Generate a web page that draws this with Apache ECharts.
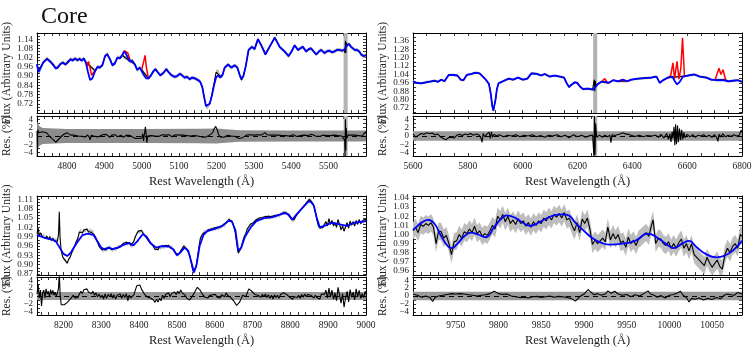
<!DOCTYPE html>
<html>
<head>
<meta charset="utf-8">
<script src="https://cdn.jsdelivr.net/npm/echarts@6/dist/echarts.min.js"></script>
<style>
html, body { margin: 0; padding: 0; background: #fff; }
#chart { width: 756px; height: 348px; }
</style>
</head>
<body>
<div id="chart"></div>
<script>
// tick labels
var p1XTicks = [4800, 4900, 5000, 5100, 5200, 5300, 5400, 5500];
var p1YTicks = [0.72, 0.78, 0.84, 0.90, 0.96, 1.02, 1.08, 1.14];
var p2XTicks = [5600, 5800, 6000, 6200, 6400, 6600, 6800];
var p2YTicks = [0.72, 0.80, 0.88, 0.96, 1.04, 1.12, 1.20, 1.28, 1.36];
var p3XTicks = [8200, 8300, 8400, 8500, 8600, 8700, 8800, 8900, 9000];
var p3YTicks = [0.87, 0.90, 0.93, 0.96, 0.99, 1.02, 1.05, 1.08, 1.11];
var p4XTicks = [9750, 9800, 9850, 9900, 9950, 10000, 10050];
var p4YTicks = [0.96, 0.97, 0.98, 0.99, 1.00, 1.01, 1.02, 1.03, 1.04];
var resTicks = [-4, -2, 0, 2, 4];

// panel 1 : 4720-5600
var p1Model = [[4720,0.975],[4724,0.925],[4729,0.93],[4737,0.99],[4747,1.01],[4755,0.995],[4764,0.97],[4770,0.95],[4776,0.955],[4783,0.98],[4790,0.985],[4796,0.975],[4803,0.99],[4810,1.01],[4816,1.0],[4822,1.015],[4828,1.005],[4834,1.01],[4840,1.0],[4845,1.015],[4851,0.985],[4856,0.93],[4862,0.875],[4868,0.885],[4875,0.93],[4882,0.96],[4888,0.955],[4895,0.97],[4902,1.03],[4908,1.04],[4915,1.01],[4922,0.97],[4928,0.98],[4935,1.02],[4942,1.015],[4948,1.035],[4953,1.06],[4958,1.045],[4963,1.02],[4968,0.995],[4975,1.0],[4982,0.975],[4988,0.94],[4995,0.955],[5000,0.945],[5006,0.905],[5012,0.885],[5018,0.885],[5025,0.905],[5031,0.93],[5037,0.945],[5043,0.925],[5050,0.905],[5058,0.92],[5066,0.945],[5072,0.925],[5080,0.905],[5088,0.895],[5095,0.9],[5102,0.915],[5108,0.905],[5115,0.89],[5122,0.895],[5128,0.88],[5135,0.89],[5142,0.885],[5150,0.875],[5156,0.865],[5162,0.83],[5167,0.765],[5172,0.705],[5176,0.695],[5182,0.72],[5188,0.775],[5194,0.845],[5199,0.89],[5204,0.905],[5210,0.89],[5216,0.905],[5222,0.955],[5231,0.975],[5240,0.955],[5249,0.97],[5256,0.955],[5262,0.91],[5267,0.88],[5272,0.9],[5278,0.96],[5286,1.07],[5295,1.09],[5302,1.075],[5311,1.14],[5320,1.1],[5331,1.04],[5342,1.09],[5356,1.15],[5369,1.09],[5382,1.06],[5393,1.03],[5401,1.06],[5409,1.1],[5418,1.07],[5424,1.08],[5431,1.09],[5440,1.06],[5447,1.075],[5453,1.08],[5460,1.06],[5467,1.04],[5474,1.06],[5480,1.07],[5489,1.05],[5495,1.06],[5502,1.065],[5509,1.055],[5516,1.06],[5522,1.07],[5529,1.07],[5536,1.065],[5542,1.07],[5548,1.095],[5554,1.11],[5560,1.09],[5564,1.08],[5570,1.07],[5576,1.07],[5582,1.06],[5587,1.04],[5593,1.03],[5600,1.035]];
var p1Data = [[4720,0.98],[4724,0.935],[4729,0.935],[4737,0.99],[4747,1.015],[4755,0.995],[4764,0.975],[4770,0.95],[4776,0.96],[4783,0.98],[4790,0.99],[4796,0.975],[4803,0.995],[4810,1.01],[4816,1.005],[4822,1.015],[4828,1.0],[4834,1.015],[4840,1.0],[4845,1.015],[4851,0.99],[4875,0.935],[4882,0.96],[4888,0.955],[4895,0.975],[4902,1.03],[4908,1.045],[4915,1.01],[4922,0.97],[4928,0.985],[4935,1.02],[4942,1.02],[4948,1.035],[4970,0.995],[4975,1.0],[4982,0.975],[4988,0.94],[4995,0.955],[5000,0.94],[5018,0.885],[5025,0.905],[5031,0.93],[5037,0.945],[5043,0.925],[5050,0.905],[5058,0.92],[5066,0.945],[5072,0.925],[5080,0.905],[5088,0.895],[5095,0.9],[5102,0.915],[5108,0.905],[5115,0.89],[5122,0.895],[5128,0.88],[5135,0.89],[5142,0.885],[5150,0.875],[5156,0.865],[5162,0.83],[5167,0.765],[5172,0.705],[5176,0.695],[5182,0.72],[5188,0.78],[5194,0.86],[5199,0.925],[5204,0.935],[5210,0.9],[5216,0.905],[5222,0.955],[5231,0.975],[5240,0.955],[5249,0.97],[5256,0.955],[5262,0.905],[5267,0.875],[5272,0.9],[5278,0.96],[5286,1.07],[5295,1.09],[5302,1.075],[5311,1.14],[5320,1.1],[5331,1.045],[5342,1.09],[5356,1.15],[5369,1.09],[5382,1.06],[5393,1.03],[5401,1.06],[5409,1.1],[5418,1.07],[5424,1.08],[5431,1.09],[5440,1.06],[5447,1.075],[5453,1.08],[5460,1.06],[5467,1.04],[5474,1.06],[5480,1.07],[5489,1.05],[5495,1.06],[5502,1.065],[5509,1.055],[5516,1.06],[5522,1.07],[5529,1.07],[5536,1.065],[5542,1.07],[5544,1.05],[5545,1.13],[5546,1.05],[5547,1.12],[5549,1.095],[5554,1.11],[5560,1.09],[5564,1.08],[5570,1.07],[5576,1.07],[5582,1.06],[5587,1.04],[5593,1.03],[5600,1.035]];
var p1Emis = [
  [[4851,0.99],[4854,0.965],[4858,0.995],[4862,0.95],[4866,0.905],[4870,0.9],[4875,0.935]],
  [[4948,1.035],[4953,1.065],[4958,1.055],[4963,1.05],[4970,0.995]],
  [[5000,0.94],[5003,0.945],[5006,1.0],[5009,1.035],[5013,0.95],[5018,0.885]]
];
var p1Sigma = 0.012;
var p1Res = [[4720,1.2],[4721,-5.5],[4722,1.5],[4725,0.8],[4730,0.5],[4735,1.0],[4740,0.6],[4745,0.8],[4750,0.3],[4755,-0.2],[4760,-0.6],[4765,-1.0],[4770,-1.5],[4775,-1.2],[4780,-0.6],[4785,-0.2],[4790,0.3],[4795,0.6],[4800,0.8],[4805,0.6],[4810,0.2],[4815,0.3],[4820,0.2],[4825,0.5],[4830,0.0],[4835,0.3],[4840,-0.1],[4845,0.2],[4850,-0.2],[4855,0.3],[4860,-0.3],[4862,-0.9],[4865,0.2],[4870,0.3],[4875,-0.1],[4880,0.2],[4885,-0.2],[4890,0.1],[4895,0.3],[4900,0.1],[4905,0.4],[4910,0.0],[4915,-0.3],[4920,0.2],[4925,-0.1],[4930,0.3],[4935,-0.2],[4940,0.0],[4945,0.2],[4950,-0.3],[4955,0.0],[4960,0.2],[4965,-0.2],[4970,0.1],[4975,-0.3],[4980,-0.5],[4985,-0.8],[4990,-0.6],[4995,-0.2],[5000,-0.5],[5003,0.5],[5005,-1.2],[5008,1.0],[5010,2.2],[5012,0.4],[5014,-1.6],[5016,0.0],[5020,0.4],[5025,0.1],[5030,0.3],[5035,0.0],[5040,0.2],[5045,-0.1],[5050,0.1],[5055,0.3],[5060,-0.1],[5065,0.2],[5070,0.0],[5075,0.3],[5080,-0.2],[5085,0.1],[5090,0.3],[5095,-0.1],[5100,0.2],[5105,0.0],[5110,0.2],[5115,-0.2],[5120,0.1],[5125,0.3],[5130,0.0],[5135,-0.2],[5140,0.1],[5145,-0.3],[5150,0.0],[5155,-0.4],[5160,-0.2],[5165,-0.5],[5170,-0.3],[5175,0.0],[5180,0.1],[5185,0.2],[5190,0.8],[5194,1.8],[5198,2.3],[5202,1.5],[5206,0.3],[5210,-0.2],[5215,0.1],[5220,-0.3],[5225,-0.1],[5230,0.2],[5235,-0.2],[5240,0.0],[5245,-0.3],[5250,-0.1],[5255,-0.4],[5260,-0.6],[5265,-0.8],[5270,-0.4],[5275,0.0],[5280,0.2],[5285,0.1],[5290,0.3],[5295,0.4],[5300,0.2],[5305,0.5],[5310,0.3],[5315,0.4],[5320,0.2],[5325,0.6],[5330,0.8],[5335,0.3],[5340,0.1],[5345,0.2],[5350,0.0],[5355,0.2],[5360,-0.1],[5365,0.2],[5370,0.0],[5375,0.1],[5380,-0.2],[5385,0.1],[5390,0.2],[5395,0.0],[5400,0.1],[5405,0.3],[5410,0.0],[5415,-0.1],[5420,0.2],[5425,0.1],[5430,0.0],[5435,0.2],[5440,-0.1],[5445,0.1],[5450,0.2],[5455,0.4],[5460,0.1],[5465,0.0],[5470,0.2],[5475,-0.1],[5480,0.1],[5485,0.2],[5490,0.0],[5495,0.1],[5500,0.3],[5505,0.1],[5510,0.0],[5515,0.2],[5520,-0.1],[5525,0.1],[5530,0.2],[5535,0.0],[5540,0.2],[5543,-1.0],[5544,-4.8],[5545,4.0],[5546,-3.5],[5547,2.0],[5549,-0.5],[5552,0.2],[5556,0.1],[5560,0.2],[5565,0.0],[5570,0.2],[5575,-0.1],[5580,0.1],[5585,0.2],[5590,0.0],[5595,0.4],[5598,1.0],[5600,0.6]];
var p1ResErr = [[4720,3.5],[4726,2.4],[4735,1.9],[4800,1.7],[5000,1.7],[5150,1.75],[5200,1.8],[5260,1.4],[5400,1.3],[5600,1.3]];
var p1Mask = [5540, 5551];

// panel 2 : 5600-6800
var p2Model = [[5600,0.975],[5612,0.96],[5630,0.955],[5649,0.965],[5667,0.975],[5679,0.98],[5691,0.97],[5703,0.99],[5715,0.975],[5730,1.035],[5746,1.035],[5762,1.03],[5774,0.99],[5784,0.985],[5796,1.035],[5813,1.045],[5827,1.055],[5843,1.05],[5855,1.02],[5867,0.985],[5877,0.95],[5884,0.85],[5889,0.74],[5893,0.695],[5897,0.71],[5901,0.8],[5906,0.9],[5912,0.955],[5928,0.975],[5949,1.0],[5965,0.99],[5983,1.01],[6001,0.99],[6017,1.0],[6032,1.05],[6050,1.045],[6068,1.03],[6080,1.045],[6098,1.02],[6117,1.03],[6135,1.02],[6151,1.01],[6160,0.96],[6169,0.92],[6177,0.94],[6190,0.965],[6199,0.96],[6209,0.925],[6220,0.9],[6238,0.905],[6257,0.895],[6275,0.95],[6287,0.97],[6299,0.97],[6314,0.96],[6330,0.985],[6348,0.975],[6366,0.99],[6382,0.975],[6396,0.99],[6421,1.0],[6445,1.005],[6469,1.01],[6488,1.02],[6500,0.96],[6512,0.985],[6530,1.01],[6546,1.02],[6554,0.98],[6563,0.945],[6573,0.97],[6585,1.02],[6603,1.03],[6627,1.04],[6646,1.02],[6670,1.01],[6688,0.99],[6706,0.985],[6731,0.985],[6749,0.975],[6767,0.98],[6785,0.985],[6800,0.97]];
var p2Data = [[5600,0.975],[5612,0.962],[5630,0.955],[5649,0.968],[5667,0.975],[5679,0.982],[5691,0.97],[5703,0.99],[5715,0.978],[5730,1.035],[5746,1.038],[5762,1.03],[5774,0.99],[5784,0.985],[5796,1.035],[5813,1.045],[5827,1.058],[5843,1.05],[5855,1.02],[5867,0.985],[5877,0.95],[5884,0.85],[5889,0.74],[5893,0.695],[5897,0.71],[5901,0.8],[5906,0.9],[5912,0.955],[5928,0.975],[5949,1.0],[5965,0.99],[5983,1.01],[6001,0.99],[6017,1.0],[6032,1.05],[6050,1.048],[6068,1.03],[6080,1.045],[6098,1.02],[6117,1.03],[6135,1.02],[6151,1.01],[6160,0.96],[6169,0.92],[6177,0.94],[6190,0.965],[6199,0.96],[6209,0.925],[6220,0.9],[6238,0.905],[6255,0.895],[6259,0.88],[6261,0.99],[6263,0.88],[6265,0.98],[6268,0.93],[6275,0.95],[6287,0.97],[6314,0.96],[6330,0.985],[6348,0.975],[6382,0.975],[6396,0.99],[6421,1.0],[6445,1.005],[6469,1.01],[6488,1.02],[6500,0.96],[6512,0.985],[6530,1.01],[6596,1.025],[6603,1.03],[6627,1.04],[6646,1.02],[6670,1.01],[6688,0.99],[6702,0.99],[6740,0.99],[6749,0.975],[6767,0.98],[6785,0.985],[6800,0.97]];
var p2Emis = [
  [[6287,0.97],[6293,0.975],[6300,1.0],[6308,0.962],[6314,0.96]],
  [[6348,0.975],[6358,0.985],[6364,0.995],[6370,0.98],[6382,0.975]],
  [[6530,1.01],[6540,1.03],[6548,1.15],[6554,1.0],[6563,1.165],[6570,0.995],[6577,1.1],[6583,1.39],[6590,1.03],[6596,1.025]],
  [[6702,0.99],[6716,1.10],[6723,1.04],[6731,1.085],[6740,0.99]]
];
var p2Sigma = 0.012;
var p2Res = [[5600,0.5],[5610,-0.3],[5620,0.2],[5630,0.6],[5640,0.4],[5650,0.8],[5660,0.6],[5670,0.7],[5680,0.3],[5690,0.5],[5700,-0.2],[5710,-0.6],[5720,-0.9],[5730,-0.4],[5740,-0.3],[5750,-0.5],[5760,0.2],[5770,0.4],[5780,0.1],[5790,0.5],[5800,0.3],[5810,0.6],[5820,0.2],[5830,0.5],[5840,0.3],[5848,-0.5],[5852,-1.5],[5856,0.6],[5862,-0.2],[5870,0.5],[5878,0.9],[5882,-0.6],[5886,1.0],[5890,-0.3],[5896,0.4],[5905,0.0],[5915,0.3],[5930,-0.2],[5945,0.2],[5960,0.0],[5975,0.3],[5990,-0.2],[6005,0.2],[6020,0.0],[6035,0.3],[6050,-0.2],[6065,0.1],[6080,-0.3],[6095,0.2],[6110,0.0],[6125,0.3],[6140,-0.2],[6155,0.2],[6170,-0.4],[6185,0.3],[6200,-0.2],[6215,0.2],[6230,-0.3],[6245,0.1],[6255,0.2],[6260,-4.8],[6262,4.8],[6264,-4.5],[6266,3.0],[6270,-0.3],[6280,0.2],[6290,-0.3],[6300,0.2],[6310,-0.2],[6318,0.2],[6322,-1.6],[6326,0.3],[6335,0.1],[6345,0.3],[6355,0.5],[6365,0.8],[6375,0.5],[6385,0.4],[6395,0.2],[6410,-0.1],[6425,0.2],[6440,-0.2],[6455,0.1],[6470,0.0],[6485,0.2],[6495,-0.3],[6505,0.4],[6515,-0.5],[6525,0.6],[6532,-0.8],[6537,0.5],[6541,-1.4],[6545,1.0],[6548,-0.6],[6552,2.2],[6555,-2.2],[6558,2.8],[6561,-2.0],[6565,2.5],[6568,-1.5],[6572,1.8],[6576,-1.0],[6580,1.5],[6584,-0.8],[6588,0.9],[6592,-0.4],[6600,0.4],[6610,-0.2],[6620,0.3],[6630,-0.3],[6640,0.2],[6650,0.0],[6660,0.3],[6670,-0.2],[6680,0.2],[6690,-0.3],[6700,0.3],[6708,-0.4],[6712,-1.3],[6716,0.4],[6722,-0.2],[6730,0.5],[6740,-0.2],[6750,0.2],[6760,-0.1],[6770,0.3],[6780,0.0],[6790,0.2],[6797,1.4],[6800,0.8]];
var p2ResErr = [[5600,1.15],[6800,1.15]];
var p2Mask = [6257, 6272];

// panel 3 : 8130-9000
var p3Model = [[8130,0.996],[8150,0.986],[8170,0.981],[8180,0.975],[8190,0.955],[8200,0.935],[8210,0.928],[8220,0.94],[8235,0.97],[8250,0.995],[8265,1.0],[8280,0.995],[8290,0.975],[8300,0.955],[8310,0.948],[8320,0.955],[8330,0.95],[8345,0.955],[8360,0.965],[8375,0.97],[8385,0.962],[8395,0.975],[8410,0.999],[8420,0.99],[8430,0.97],[8445,0.955],[8460,0.96],[8480,0.958],[8490,0.95],[8500,0.93],[8510,0.94],[8520,0.955],[8530,0.945],[8540,0.90],[8545,0.875],[8552,0.90],[8560,0.96],[8570,0.995],[8580,1.008],[8600,1.015],[8620,1.025],[8635,1.04],[8645,1.04],[8655,1.01],[8662,0.945],[8670,0.955],[8680,0.99],[8695,1.02],[8710,1.04],[8730,1.05],[8750,1.052],[8770,1.06],[8785,1.066],[8795,1.062],[8805,1.045],[8815,1.06],[8830,1.08],[8845,1.10],[8852,1.105],[8862,1.09],[8870,1.05],[8878,1.02],[8890,1.025],[8910,1.035],[8930,1.03],[8950,1.025],[8970,1.035],[9000,1.04]];
var p3Data = [[8130,1.0],[8133,1.018],[8136,0.995],[8140,1.002],[8144,0.99],[8148,0.996],[8152,0.985],[8156,0.992],[8160,0.982],[8164,0.99],[8168,0.978],[8172,0.985],[8176,0.976],[8180,0.982],[8184,0.975],[8187,1.0],[8189,1.07],[8191,0.985],[8194,0.945],[8198,0.925],[8202,0.918],[8206,0.912],[8210,0.905],[8214,0.918],[8218,0.925],[8222,0.94],[8226,0.945],[8230,0.962],[8234,0.975],[8238,0.985],[8242,1.005],[8246,1.01],[8250,1.002],[8254,1.012],[8258,1.008],[8262,1.015],[8266,1.006],[8270,1.012],[8274,1.004],[8278,1.01],[8282,0.995],[8286,0.985],[8290,0.972],[8294,0.96],[8298,0.955],[8302,0.948],[8306,0.944],[8310,0.952],[8314,0.946],[8318,0.955],[8322,0.958],[8326,0.95],[8330,0.946],[8334,0.952],[8338,0.948],[8342,0.955],[8346,0.96],[8350,0.958],[8354,0.962],[8358,0.968],[8362,0.964],[8366,0.972],[8370,0.966],[8374,0.97],[8378,0.962],[8382,0.96],[8386,0.975],[8390,0.99],[8394,1.0],[8398,1.008],[8402,1.004],[8406,1.01],[8410,1.004],[8414,0.995],[8418,0.99],[8422,0.982],[8426,0.975],[8430,0.97],[8434,0.965],[8438,0.958],[8442,0.95],[8446,0.955],[8450,0.948],[8454,0.958],[8458,0.952],[8462,0.96],[8466,0.955],[8470,0.962],[8474,0.958],[8478,0.962],[8482,0.955],[8486,0.958],[8490,0.95],[8494,0.945],[8498,0.935],[8502,0.93],[8506,0.935],[8510,0.945],[8514,0.952],[8518,0.96],[8522,0.958],[8526,0.95],[8530,0.944],[8534,0.93],[8538,0.905],[8542,0.882],[8546,0.876],[8550,0.89],[8554,0.92],[8558,0.955],[8562,0.985],[8566,0.995],[8570,1.002],[8574,1.008],[8578,1.005],[8582,1.012],[8586,1.01],[8590,1.015],[8594,1.012],[8598,1.018],[8602,1.014],[8606,1.02],[8610,1.016],[8614,1.022],[8618,1.02],[8622,1.028],[8626,1.025],[8630,1.035],[8634,1.04],[8638,1.046],[8642,1.042],[8646,1.038],[8650,1.025],[8654,1.005],[8658,0.97],[8662,0.938],[8666,0.945],[8670,0.955],[8674,0.975],[8678,0.99],[8682,1.0],[8686,1.015],[8690,1.02],[8694,1.03],[8698,1.025],[8702,1.035],[8706,1.04],[8710,1.045],[8714,1.042],[8718,1.05],[8722,1.046],[8726,1.052],[8730,1.048],[8734,1.055],[8738,1.05],[8742,1.056],[8746,1.05],[8750,1.055],[8754,1.052],[8758,1.058],[8762,1.053],[8766,1.06],[8770,1.056],[8774,1.062],[8778,1.065],[8782,1.068],[8786,1.07],[8790,1.066],[8794,1.062],[8798,1.055],[8802,1.048],[8806,1.042],[8810,1.045],[8814,1.055],[8818,1.062],[8822,1.068],[8826,1.075],[8830,1.08],[8834,1.086],[8838,1.092],[8842,1.098],[8846,1.104],[8850,1.11],[8854,1.108],[8858,1.1],[8862,1.09],[8866,1.07],[8870,1.045],[8874,1.025],[8878,1.018],[8882,1.022],[8886,1.02],[8890,1.03],[8894,1.038],[8898,1.025],[8902,1.048],[8906,1.03],[8910,1.042],[8914,1.025],[8918,1.035],[8922,1.02],[8926,1.045],[8930,1.03],[8934,1.012],[8938,1.025],[8942,1.008],[8946,1.022],[8950,1.035],[8954,1.018],[8958,1.04],[8962,1.028],[8966,1.038],[8970,1.025],[8974,1.042],[8978,1.03],[8982,1.045],[8986,1.032],[8990,1.04],[8994,1.036],[8998,1.048],[9000,1.04]];
var p3Sigma = 0.005;
var p3Res = [[8130,0.5],[8133,3.0],[8136,-0.5],[8139,1.5],[8142,-2.5],[8145,0.8],[8148,1.5],[8151,-0.5],[8154,1.8],[8157,0.5],[8160,1.2],[8163,-0.3],[8166,1.6],[8169,0.4],[8172,1.4],[8175,0.2],[8178,1.0],[8181,0.0],[8184,0.8],[8187,2.0],[8189,6.0],[8191,0.5],[8194,-2.2],[8198,-2.5],[8202,-2.2],[8206,-2.4],[8210,-1.6],[8214,-1.8],[8218,-0.8],[8222,-1.0],[8226,0.2],[8230,-0.5],[8234,0.0],[8238,-0.4],[8242,0.5],[8246,1.2],[8250,0.6],[8254,1.6],[8258,1.2],[8262,1.8],[8266,1.0],[8270,1.5],[8274,0.6],[8278,1.2],[8282,0.2],[8286,0.8],[8290,-0.2],[8294,0.5],[8298,-0.4],[8302,0.2],[8306,-0.8],[8310,0.5],[8314,-0.6],[8318,0.4],[8322,-0.2],[8326,0.6],[8330,-0.5],[8334,0.3],[8338,-0.8],[8342,0.2],[8346,-0.3],[8350,0.5],[8354,-0.6],[8358,0.4],[8362,-0.4],[8366,0.6],[8370,-1.2],[8374,0.2],[8378,-0.5],[8382,-0.2],[8386,0.3],[8390,1.5],[8394,2.6],[8398,2.2],[8402,2.8],[8406,1.8],[8410,2.0],[8414,0.5],[8418,0.2],[8422,-0.3],[8426,0.2],[8430,-0.5],[8434,-0.2],[8438,-1.0],[8442,-1.6],[8446,-0.8],[8450,-1.5],[8454,-0.6],[8458,-1.2],[8462,0.2],[8466,-0.6],[8470,0.4],[8474,0.2],[8478,0.8],[8482,-0.2],[8486,0.6],[8490,0.2],[8494,1.0],[8498,0.4],[8502,1.2],[8506,0.6],[8510,1.5],[8514,0.8],[8518,0.6],[8522,0.2],[8526,-0.6],[8530,-0.2],[8534,-1.0],[8538,-0.4],[8542,0.2],[8546,0.8],[8550,1.5],[8554,2.2],[8558,2.0],[8562,1.4],[8566,0.6],[8570,0.2],[8574,-0.3],[8578,0.2],[8582,-0.5],[8586,0.1],[8590,-0.4],[8594,0.3],[8598,-0.2],[8602,0.4],[8606,-0.3],[8610,0.2],[8614,-0.5],[8618,0.3],[8622,0.6],[8626,-0.2],[8630,0.8],[8634,0.2],[8638,0.5],[8642,-0.4],[8646,-0.8],[8650,-1.2],[8654,-1.8],[8658,-2.4],[8662,-2.8],[8666,-1.5],[8670,-0.6],[8674,0.2],[8678,0.4],[8682,-0.2],[8686,0.8],[8690,1.8],[8694,1.6],[8698,1.2],[8702,0.8],[8706,0.4],[8710,0.9],[8714,0.2],[8718,0.6],[8722,-0.3],[8726,0.4],[8730,-0.2],[8734,0.5],[8738,-0.4],[8742,0.3],[8746,-0.6],[8750,0.2],[8754,-0.8],[8758,0.3],[8762,-0.4],[8766,0.2],[8770,-0.6],[8774,0.4],[8778,0.6],[8782,0.8],[8786,1.0],[8790,0.4],[8794,0.2],[8798,-0.3],[8802,-0.5],[8806,-0.8],[8810,-0.2],[8814,0.3],[8818,-0.4],[8822,0.2],[8826,-0.6],[8830,0.4],[8834,-0.3],[8838,0.5],[8842,-0.2],[8846,0.4],[8850,0.8],[8854,0.2],[8858,-0.3],[8862,-0.5],[8866,0.2],[8870,-0.4],[8874,0.0],[8878,-0.8],[8882,0.5],[8886,1.0],[8890,0.4],[8894,1.5],[8898,-0.5],[8902,2.0],[8906,-0.3],[8910,1.5],[8914,-0.8],[8918,0.8],[8922,-1.2],[8926,2.2],[8930,0.3],[8934,-1.8],[8938,0.6],[8942,-2.8],[8946,-0.5],[8950,1.2],[8954,-1.5],[8958,1.6],[8962,-0.3],[8966,1.0],[8970,-1.0],[8974,1.8],[8978,-0.2],[8982,1.4],[8986,-0.6],[8990,0.6],[8994,-0.4],[8998,1.2],[9000,0.5]];
var p3ResErr = [[8130,1.0],[9000,1.0]];

// panel 4 : 9700-10085
var p4Model = [[9700,1.005],[9705,1.009],[9710,1.013],[9718,1.016],[9725,1.012],[9732,1.0],[9740,0.988],[9745,0.985],[9752,0.99],[9760,0.998],[9768,1.002],[9776,1.0],[9785,0.997],[9795,1.008],[9803,1.017],[9810,1.021],[9820,1.018],[9830,1.012],[9837,1.0095],[9845,1.012],[9855,1.017],[9865,1.021],[9875,1.022],[9882,1.021],[9890,1.013],[9900,1.004],[9910,0.996],[9920,0.991],[9930,0.989],[9945,0.99],[9960,0.993],[9975,1.001],[9988,0.995],[10000,0.987],[10005,0.985],[10015,0.99],[10023,0.993],[10032,0.986],[10042,0.979],[10055,0.975],[10065,0.977],[10075,0.983],[10085,0.993]];
var p4Data = [[9700,1.004],[9703,1.008],[9706,1.002],[9709,1.011],[9712,1.009],[9715,1.012],[9718,1.01],[9721,1.013],[9724,1.008],[9727,0.99],[9730,1.004],[9733,1.003],[9736,0.996],[9739,0.999],[9742,0.99],[9745,0.978],[9748,0.992],[9751,0.993],[9754,1.0],[9757,0.996],[9760,1.003],[9763,1.001],[9766,1.006],[9769,1.002],[9772,1.009],[9775,1.001],[9778,1.004],[9781,0.998],[9784,1.001],[9787,0.999],[9790,1.004],[9793,1.01],[9796,1.006],[9799,1.02],[9802,1.016],[9805,1.022],[9808,1.014],[9811,1.02],[9814,1.012],[9817,1.016],[9820,1.011],[9823,1.017],[9826,1.012],[9829,1.015],[9832,1.009],[9835,1.013],[9838,1.008],[9841,1.014],[9844,1.01],[9847,1.015],[9850,1.012],[9853,1.018],[9856,1.015],[9859,1.02],[9862,1.016],[9865,1.022],[9868,1.019],[9871,1.023],[9874,1.018],[9877,1.024],[9880,1.016],[9883,1.018],[9886,1.01],[9889,1.004],[9892,1.013],[9895,1.002],[9898,1.017],[9901,1.012],[9904,1.018],[9907,1.006],[9910,0.989],[9913,0.994],[9916,0.99],[9919,0.993],[9922,0.996],[9925,0.992],[9928,1.008],[9931,0.994],[9934,1.001],[9937,0.995],[9940,1.0],[9943,0.991],[9946,0.993],[9949,0.986],[9952,0.997],[9955,0.99],[9958,0.994],[9961,0.988],[9964,0.995],[9967,0.997],[9970,1.0],[9973,1.002],[9976,0.998],[9979,1.01],[9981,1.016],[9984,0.99],[9987,0.996],[9990,0.995],[9993,0.99],[9996,0.988],[9999,0.992],[10002,0.985],[10005,0.99],[10008,0.985],[10011,0.991],[10014,0.995],[10017,0.985],[10020,0.99],[10023,0.982],[10026,0.99],[10029,0.978],[10032,0.975],[10035,0.972],[10038,0.969],[10041,0.966],[10044,0.975],[10047,0.969],[10050,0.964],[10053,0.968],[10056,0.972],[10059,0.965],[10062,0.962],[10065,0.978],[10068,0.985],[10071,0.98],[10074,0.987],[10077,0.99],[10080,0.985],[10083,1.0],[10085,0.998]];
var p4Sigma = 0.0095;
var p4Res = [[9700,0.5],[9705,0.2],[9710,-0.3],[9715,0.0],[9720,-0.4],[9723,-1.4],[9726,-0.3],[9730,0.0],[9735,0.2],[9740,0.4],[9745,0.6],[9750,0.5],[9755,0.6],[9760,0.5],[9765,0.3],[9770,0.2],[9775,0.0],[9780,0.2],[9785,0.3],[9790,0.6],[9795,1.2],[9800,0.6],[9805,0.4],[9810,0.5],[9815,0.0],[9820,-0.2],[9825,-0.4],[9830,-0.3],[9835,-0.5],[9840,-0.2],[9845,-0.1],[9850,-0.4],[9855,-0.2],[9860,0.0],[9865,-0.3],[9870,-0.1],[9875,-0.2],[9880,-0.4],[9885,-0.6],[9890,-1.3],[9895,-0.2],[9900,0.5],[9905,1.6],[9908,1.0],[9912,0.3],[9916,0.6],[9920,0.2],[9925,0.5],[9928,1.3],[9932,0.7],[9936,1.2],[9940,0.5],[9945,0.2],[9950,0.4],[9955,-0.2],[9960,0.3],[9965,0.0],[9970,0.6],[9975,1.3],[9978,0.5],[9982,0.2],[9986,-0.3],[9990,0.1],[9995,-0.5],[10000,0.2],[10005,0.4],[10010,0.8],[10013,1.2],[10016,0.2],[10020,-0.4],[10023,-1.5],[10026,-0.6],[10030,-0.8],[10035,-0.5],[10040,-1.0],[10045,-0.6],[10050,-0.9],[10055,-0.4],[10060,-0.7],[10064,0.2],[10068,0.5],[10072,0.3],[10076,0.2],[10080,0.9],[10085,0.5]];
var p4ResErr = [[9700,1.1],[10085,1.1]];

var FONT = 'Liberation Serif';

function tickList(min, max, step) {
  var out = [];
  for (var k = Math.ceil(min / step - 1e-9); k * step <= max + 1e-9; k++) out.push(+(k * step).toFixed(5));
  return out;
}

var panels = [
  {main: [35, 33, 331, 80], res: [35, 116, 331, 40], x: [4720, 5600], y: [0.66, 1.18],
   xt: p1XTicks, yt: p1YTicks, xm: 20, ym: 0.02, model: p1Model, data: p1Data, sigma: p1Sigma,
   emis: p1Emis, resid: p1Res, resErr: p1ResErr, mask: p1Mask, bandColor: '#8c8c8c'},
  {main: [413, 33, 329, 80], res: [413, 116, 329, 40], x: [5600, 6800], y: [0.672, 1.436],
   xt: p2XTicks, yt: p2YTicks, xm: 50, ym: 0.04, model: p2Model, data: p2Data, sigma: p2Sigma,
   emis: p2Emis, resid: p2Res, resErr: p2ResErr, mask: p2Mask, bandColor: '#9a9a9a'},
  {main: [35, 196, 331, 79], res: [35, 277, 331, 41], x: [8130, 9000], y: [0.867, 1.121],
   xt: p3XTicks, yt: p3YTicks, xm: 20, ym: 0.01, model: p3Model, data: p3Data, sigma: p3Sigma,
   emis: [], resid: p3Res, resErr: p3ResErr, mask: null, bandColor: '#9a9a9a'},
  {main: [413, 196, 329, 79], res: [413, 277, 329, 41], x: [9700, 10085], y: [0.9556, 1.0422],
   xt: p4XTicks, yt: p4YTicks, xm: 10, ym: 0.005, model: p4Model, data: p4Data, sigma: p4Sigma,
   emis: [], resid: p4Res, resErr: p4ResErr, mask: null, bandColor: '#9a9a9a', smooth: true}
];

var grids = [], xAxes = [], yAxes = [], series = [];

function yAxisDef(gi, yr, pos, ticks, labels, yFmt, name, line) {
  return {
    type: 'value', gridIndex: gi, position: pos, min: yr[0], max: yr[1],
    axisLine: {show: line, onZero: false, lineStyle: {color: '#000', width: 1}},
    axisTick: {show: line, inside: true, length: 3, customValues: ticks, lineStyle: {color: '#000', width: 0.8}},
    axisLabel: {show: labels.length > 0, customValues: labels.length ? labels : [yr[0]], margin: 4, hideOverlap: false,
      showMinLabel: true, showMaxLabel: true, formatter: yFmt, fontFamily: FONT, fontSize: 9, color: '#222'},
    splitLine: {show: false},
    name: name, nameLocation: 'middle', nameGap: 24,
    nameTextStyle: {fontFamily: FONT, fontSize: 11.5, color: '#222'}
  };
}

function addFrame(box, xr, yr, xt, xm, yt, ym, showX, yName, yFmt) {
  var gi = grids.length;
  grids.push({left: box[0], top: box[1], width: box[2], height: box[3]});
  var xAll = tickList(xr[0], xr[1], xm);
  var yAll = tickList(yr[0], yr[1], ym);
  var xi = xAxes.length, yi = yAxes.length;
  ['bottom', 'top'].forEach(function (pos) {
    var bottom = pos === 'bottom';
    xAxes.push({
      type: 'value', gridIndex: gi, position: pos, min: xr[0], max: xr[1],
      axisLine: {show: true, onZero: false, lineStyle: {color: '#000', width: 1}},
      axisTick: {show: true, inside: true, length: 3, customValues: xAll, lineStyle: {color: '#000', width: 0.8}},
      axisLabel: {show: bottom && showX, customValues: xt, margin: 5, hideOverlap: false,
        showMinLabel: true, showMaxLabel: true,
        formatter: function (v) { return String(v); }, fontFamily: FONT, fontSize: 9.5, color: '#222'},
      splitLine: {show: false},
      name: bottom && showX ? 'Rest Wavelength (\u00c5)' : '', nameLocation: 'middle', nameGap: 19,
      nameTextStyle: {fontFamily: FONT, fontSize: 12.5, color: '#222'}
    });
  });
  // labels split over two left axes so none of them get dropped
  var evenLabels = yt.filter(function (v, k) { return k % 2 === 0; });
  var oddLabels = yt.filter(function (v, k) { return k % 2 === 1; });
  yAxes.push(yAxisDef(gi, yr, 'left', yAll, evenLabels, yFmt, yName, true));
  yAxes.push(yAxisDef(gi, yr, 'right', yAll, [], yFmt, '', true));
  yAxes.push(yAxisDef(gi, yr, 'left', yAll, oddLabels, yFmt, '', false));
  return {x: xi, y: yi};
}

function lineSeries(ax, data, color, width, z, extra) {
  var s = {type: 'line', xAxisIndex: ax.x, yAxisIndex: ax.y, data: data, showSymbol: false, symbol: 'none',
    lineStyle: {color: color, width: width}, z: z, silent: true, animation: false};
  for (var k in extra) s[k] = extra[k];
  return s;
}

// shaded band between two curves, drawn as one polygon through the axes
function bandSeries(ax, upper, lower, color, z) {
  series.push({
    type: 'custom', xAxisIndex: ax.x, yAxisIndex: ax.y, z: z, silent: true, animation: false, clip: true,
    data: [upper[0]],
    renderItem: function (params, api) {
      var pts = upper.map(function (d) { return api.coord(d); })
        .concat(lower.slice().reverse().map(function (d) { return api.coord(d); }));
      var cs = params.coordSys;
      pts = echarts.graphic.clipPointsByRect(pts, {x: cs.x, y: cs.y, width: cs.width, height: cs.height});
      return {type: 'polygon', shape: {points: pts}, style: {fill: color}};
    }
  });
}

function maskSeries(ax, mask, color) {
  series.push(lineSeries(ax, [], color, 0, 1, {
    markArea: {silent: true, itemStyle: {color: color}, data: [[{xAxis: mask[0]}, {xAxis: mask[1]}]]}
  }));
}

var fmt2 = function (v) { return v.toFixed(2); };
var fmtRes = function (v) { return v < 0 ? '\u2212' + (-v) : String(v); };

panels.forEach(function (p) {
  var am = addFrame(p.main, p.x, p.y, p.xt, p.xm, p.yt, p.ym, false, 'Flux (Arbitrary Units)', fmt2);
  var ar = addFrame(p.res, p.x, [-4.8, 4.8], p.xt, p.xm, resTicks, 1, true, 'Res. (%)', fmtRes);

  // main panel
  if (p.mask) maskSeries(am, p.mask, '#b3b3b3');
  bandSeries(am, p.data.map(function (d) { return [d[0], d[1] + p.sigma]; }),
    p.data.map(function (d) { return [d[0], d[1] - p.sigma]; }), '#bdbdbd', 2);
  series.push(lineSeries(am, p.data, '#000', 1.1, 3));
  p.emis.forEach(function (seg) { series.push(lineSeries(am, seg, '#ff0000', 1.5, 4)); });
  series.push(lineSeries(am, p.model, '#0000ff', 1.8, 5, {smooth: p.smooth ? 0.5 : false}));

  // residual panel
  bandSeries(ar, p.resErr.map(function (d) { return [d[0], d[1]]; }),
    p.resErr.map(function (d) { return [d[0], -d[1]]; }), p.bandColor, 2);
  if (p.mask) maskSeries(ar, p.mask, '#b3b3b3');
  series.push(lineSeries(ar, p.resid, '#000', 1.1, 4, {
    markLine: {silent: true, symbol: 'none', label: {show: false},
      lineStyle: {color: '#000', type: [5, 4], width: 1}, data: [{yAxis: 0}]}
  }));
});

var chart = echarts.init(document.getElementById('chart'), null, {renderer: 'canvas'});
chart.setOption({
  animation: false,
  backgroundColor: '#fff',
  title: {text: 'Core', left: 36, top: 0,
    textStyle: {fontFamily: FONT, fontSize: 24, fontWeight: 'normal', color: '#111'}},
  grid: grids,
  xAxis: xAxes,
  yAxis: yAxes,
  series: series
});
</script>
</body>
</html>
